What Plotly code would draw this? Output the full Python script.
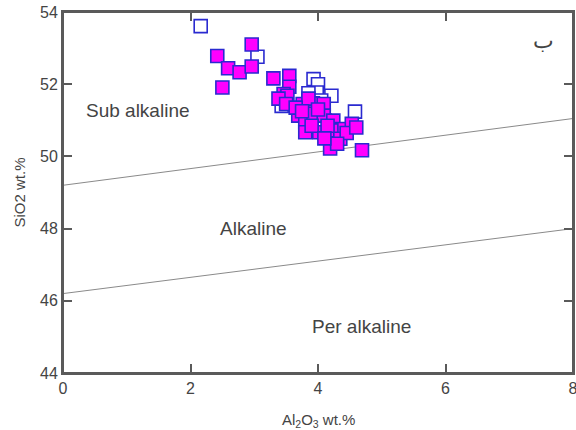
import plotly.graph_objects as go

# Filled samples (magenta)
filled_al2o3 = [2.42, 2.96, 2.59, 2.77, 2.96, 2.50, 3.30, 3.55, 3.55, 3.46, 3.52, 3.38,
                3.50, 3.76, 3.92, 4.09, 3.69, 3.80, 3.93, 4.09, 4.24, 4.37, 4.53, 3.80,
                4.02, 4.21, 4.35, 4.19, 4.69, 3.85, 4.00, 4.15, 4.45, 4.60, 3.65, 3.90,
                4.30, 4.10, 3.75]
filled_sio2 = [52.78, 53.10, 52.44, 52.33, 52.49, 51.91, 52.16, 52.23, 51.93, 51.73, 51.68, 51.60,
               51.45, 51.45, 51.47, 51.45, 51.13, 50.95, 51.18, 51.13, 50.99, 50.76, 50.90, 50.67,
               50.67, 50.72, 50.49, 50.22, 50.17, 51.60, 51.30, 50.85, 50.65, 50.80, 51.35, 50.85,
               50.35, 50.50, 51.25]

# Open samples
open_al2o3 = [2.16, 3.05, 3.93, 4.00, 3.98, 4.21, 4.58, 3.43, 3.85, 4.05, 3.95, 4.10]
open_sio2 = [53.61, 52.76, 52.14, 52.00, 51.77, 51.68, 51.24, 51.40, 51.75, 51.55, 50.90, 51.00]

# Boundary lines (x ends, y ends)
line_x = [0, 8]
upper_line_y = [49.2, 51.05]
lower_line_y = [46.2, 48.0]

field_labels = ["Sub alkaline", "Alkaline", "Per alkaline", "ب"]
field_x = [1.18, 2.99, 4.69, 7.53]
field_y = [51.27, 48.0, 45.28, 53.2]

x_ticks = [0, 2, 4, 6, 8]
y_ticks = [44, 46, 48, 50, 52, 54]

FONT = "Liberation Sans, Arial"
TXT = "#444444"
AXC = "#5a5a5a"

fig = go.Figure()
fig.add_trace(go.Scatter(x=line_x, y=upper_line_y, mode="lines",
                         line=dict(color="#8a8a8a", width=1), showlegend=False, hoverinfo="skip"))
fig.add_trace(go.Scatter(x=line_x, y=lower_line_y, mode="lines",
                         line=dict(color="#8a8a8a", width=1), showlegend=False, hoverinfo="skip"))
fig.add_trace(go.Scatter(x=open_al2o3, y=open_sio2, mode="markers",
                         marker=dict(symbol="square", size=13, color="white",
                                     line=dict(color="#2a2ad0", width=1.6)),
                         showlegend=False))
fig.add_trace(go.Scatter(x=filled_al2o3, y=filled_sio2, mode="markers",
                         marker=dict(symbol="square", size=13, color="#ff00ff",
                                     line=dict(color="#2a2ad0", width=1.6)),
                         showlegend=False))

for t, x, y in zip(field_labels, field_x, field_y):
    fig.add_annotation(x=x, y=y, text=t, showarrow=False,
                       font=dict(family=FONT, size=19 if t != "ب" else 22, color=TXT))

# Axis titles
fig.add_annotation(x=0.5, y=0, xref="paper", yref="paper", yshift=-47, yanchor="middle",
                   xanchor="center",
                   text="Al<sub>2</sub>O<sub>3</sub> wt.%", showarrow=False,
                   font=dict(family=FONT, size=15, color=TXT))
fig.add_annotation(x=0, y=0.5, xref="paper", yref="paper", xshift=-44, xanchor="center",
                   yanchor="middle",
                   text="SiO2 wt.%", showarrow=False, textangle=-90,
                   font=dict(family=FONT, size=15, color=TXT))

# Plot frame
fig.add_shape(type="rect", xref="paper", yref="paper", x0=0, y0=0, x1=1, y1=1,
              line=dict(color=AXC, width=2), layer="above")

axis_common = dict(showline=True, linecolor=AXC, linewidth=2, mirror="allticks",
                   ticks="inside", ticklen=9, tickwidth=2, tickcolor=AXC,
                   showgrid=False, zeroline=False, automargin=False,
                   ticklabeloverflow="allow",
                   tickfont=dict(family=FONT, size=16, color=TXT))

fig.update_layout(
    width=576, height=430,
    margin=dict(l=63, r=3, t=12, b=57, autoexpand=False),
    paper_bgcolor="white", plot_bgcolor="white",
    xaxis=dict(range=[0, 8], tickvals=x_ticks, **axis_common),
    yaxis=dict(range=[44, 54], tickvals=y_ticks, **axis_common),
)

fig.write_html("out.html", config={"displayModeBar": False},
               post_script="document.body.style.margin='0';")
